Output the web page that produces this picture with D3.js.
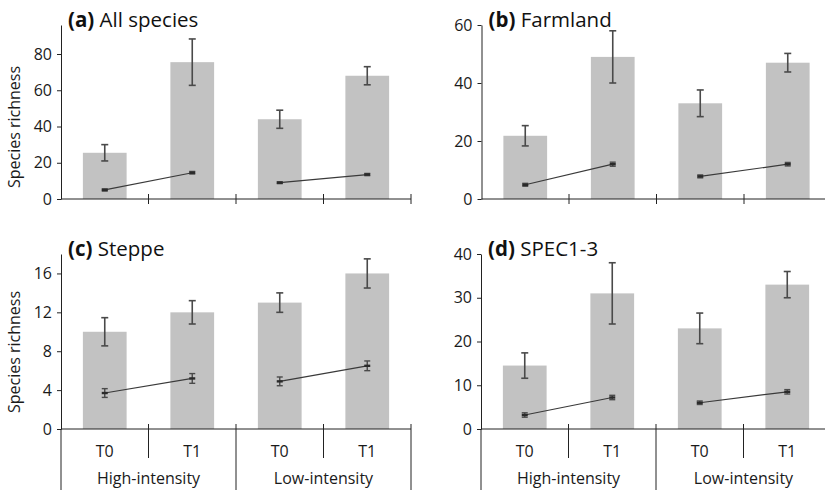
<!DOCTYPE html>
<html>
<head>
<meta charset="utf-8">
<script src="https://cdn.jsdelivr.net/npm/d3@7"></script>
<style>
  body { margin: 0; background: #fff; }
  svg { display: block; font-family: "Open Sans", sans-serif; }
</style>
</head>
<body>
<svg id="chart" width="825" height="490"></svg>
<script>
// categories and groups on the x axis
var periods = ["T0", "T1", "T0", "T1"];
var groups = ["High-intensity", "Low-intensity"];

// panel titles
var panelLetters = ["(a)", "(b)", "(c)", "(d)"];
var panelNames = ["All species", "Farmland", "Steppe", "SPEC1-3"];

// bar means (species richness) and error half widths
var barA = [25.5, 75.5, 44, 68];
var barErrA = [4.5, 12.8, 5, 5];
var barB = [21.8, 49, 33, 47];
var barErrB = [3.5, 9, 4.6, 3.2];
var barC = [10, 12, 13, 16];
var barErrC = [1.45, 1.2, 1.0, 1.5];
var barD = [14.5, 31, 23, 33];
var barErrD = [2.9, 7, 3.5, 3];

// line means and error half widths
var lineA = [5, 14.5, 9, 13.5];
var lineErrA = [0.6, 0.7, 0.5, 0.6];
var lineB = [4.9, 12, 7.8, 12];
var lineErrB = [0.5, 0.7, 0.5, 0.6];
var lineC = [3.7, 5.2, 4.9, 6.5];
var lineErrC = [0.45, 0.5, 0.45, 0.5];
var lineD = [3.2, 7.2, 6, 8.5];
var lineErrD = [0.5, 0.5, 0.4, 0.5];

// y axis limits and ticks
var yMax = [96, 60, 18, 40];
var yTicks = [[0, 20, 40, 60, 80], [0, 20, 40, 60], [0, 4, 8, 12, 16], [0, 10, 20, 30, 40]];

var panels = [
  { bars: barA, barErr: barErrA, line: lineA, lineErr: lineErrA, x0: 61, top: 25, base: 199, bottomRow: false, ylab: true, ylabY: 127 },
  { bars: barB, barErr: barErrB, line: lineB, lineErr: lineErrB, x0: 481.5, top: 25, base: 199, bottomRow: false, ylab: false },
  { bars: barC, barErr: barErrC, line: lineC, lineErr: lineErrC, x0: 61, top: 254, base: 429, bottomRow: true, ylab: true, ylabY: 352 },
  { bars: barD, barErr: barErrD, line: lineD, lineErr: lineErrD, x0: 481, top: 254, base: 429, bottomRow: true, ylab: false }
];

var svg = d3.select("#chart");
var plotW = 350;
var barColor = "#c2c2c2";
var errColor = "#4a4a4a";
var axisColor = "#222";

panels.forEach(function(p, i) {
  var g = svg.append("g");

  var x = d3.scaleBand()
    .domain(d3.range(periods.length))
    .range([p.x0, p.x0 + plotW])
    .padding(0);
  var bw = x.bandwidth() * 0.5;
  var cx = function(k) { return x(k) + x.bandwidth() / 2; };

  var y = d3.scaleLinear().domain([0, yMax[i]]).range([p.base, p.top]);

  // bars
  g.selectAll("rect.bar")
    .data(p.bars)
    .enter().append("rect")
      .attr("class", "bar")
      .attr("x", function(d, k) { return cx(k) - bw / 2; })
      .attr("width", bw)
      .attr("y", function(d) { return y(d); })
      .attr("height", function(d) { return p.base - y(d); })
      .attr("fill", barColor);

  // error bars
  function errBars(vals, errs, capW, sw) {
    var eg = g.append("g").attr("stroke", errColor).attr("stroke-width", sw).attr("fill", "none");
    vals.forEach(function(v, k) {
      var xx = cx(k);
      var hi = y(v + errs[k]), lo = y(v - errs[k]);
      eg.append("line").attr("x1", xx).attr("x2", xx).attr("y1", hi).attr("y2", lo);
      eg.append("line").attr("x1", xx - capW / 2).attr("x2", xx + capW / 2).attr("y1", hi).attr("y2", hi);
      eg.append("line").attr("x1", xx - capW / 2).attr("x2", xx + capW / 2).attr("y1", lo).attr("y2", lo);
    });
  }
  errBars(p.bars, p.barErr, 7, 1.6);

  // line segments, T0 -> T1 within each group
  var lineGen = d3.line().x(function(d) { return cx(d.k); }).y(function(d) { return y(d.v); });
  [0, 2].forEach(function(s) {
    g.append("path")
      .datum([{ k: s, v: p.line[s] }, { k: s + 1, v: p.line[s + 1] }])
      .attr("d", lineGen)
      .attr("fill", "none")
      .attr("stroke", "#3a3a3a")
      .attr("stroke-width", 1.2);
  });
  errBars(p.line, p.lineErr, 6, 1.4);
  g.selectAll("rect.mk")
    .data(p.line)
    .enter().append("rect")
      .attr("class", "mk")
      .attr("x", function(d, k) { return cx(k) - 3; })
      .attr("y", function(d) { return y(d) - 1.2; })
      .attr("width", 6)
      .attr("height", 2.4)
      .attr("fill", "#2a2a2a");

  // y axis
  var ya = g.append("g")
    .attr("transform", "translate(" + p.x0 + ",0)")
    .call(d3.axisLeft(y).tickValues(yTicks[i]).tickSize(4).tickSizeOuter(0).tickPadding(5));
  ya.select(".domain").attr("stroke", axisColor);
  ya.selectAll(".tick line").attr("stroke", axisColor);
  ya.selectAll(".tick text")
    .attr("font-family", "Open Sans, sans-serif")
    .attr("font-size", 16)
    .attr("fill", "#1a1a1a");

  // x axis line
  g.append("line")
    .attr("x1", p.x0).attr("x2", p.x0 + plotW)
    .attr("y1", p.base).attr("y2", p.base)
    .attr("stroke", axisColor).attr("stroke-width", 1);

  if (!p.bottomRow) {
    // short tick marks between categories
    d3.range(1, periods.length + 1).forEach(function(k) {
      var xx = x.range()[0] + k * x.step();
      g.append("line").attr("x1", xx).attr("x2", xx)
        .attr("y1", p.base - 5).attr("y2", p.base + 5)
        .attr("stroke", axisColor);
    });
  } else {
    // category table below the axis
    g.append("line").attr("x1", p.x0).attr("x2", p.x0)
      .attr("y1", p.base).attr("y2", 490).attr("stroke", axisColor);
    d3.range(1, periods.length + 1).forEach(function(k) {
      var xx = x.range()[0] + k * x.step();
      var major = (k % 2 === 0);
      g.append("line").attr("x1", xx).attr("x2", xx)
        .attr("y1", p.base - 5).attr("y2", major ? 490 : 458)
        .attr("stroke", axisColor);
    });
    g.selectAll("text.per")
      .data(periods)
      .enter().append("text")
        .attr("class", "per")
        .attr("x", function(d, k) { return cx(k); })
        .attr("y", 457)
        .attr("text-anchor", "middle")
        .attr("font-size", 16)
        .attr("fill", "#1a1a1a")
        .text(function(d) { return d; });
    g.selectAll("text.grp")
      .data(groups)
      .enter().append("text")
        .attr("class", "grp")
        .attr("x", function(d, j) { return (cx(2 * j) + cx(2 * j + 1)) / 2; })
        .attr("y", 484)
        .attr("text-anchor", "middle")
        .attr("font-size", 16)
        .attr("fill", "#1a1a1a")
        .text(function(d) { return d; });
  }

  // panel title
  var t = g.append("text")
    .attr("x", p.x0 + 7)
    .attr("y", p.top + 2)
    .attr("font-size", 20.5)
    .attr("fill", "#111");
  t.append("tspan").attr("font-weight", "bold").text(panelLetters[i]);
  t.append("tspan").text(" " + panelNames[i]);

  // y axis title
  if (p.ylab) {
    g.append("text")
      .attr("transform", "translate(20," + p.ylabY + ") rotate(-90)")
      .attr("text-anchor", "middle")
      .attr("font-size", 16)
      .attr("fill", "#1a1a1a")
      .text("Species richness");
  }
});
</script>
</body>
</html>
